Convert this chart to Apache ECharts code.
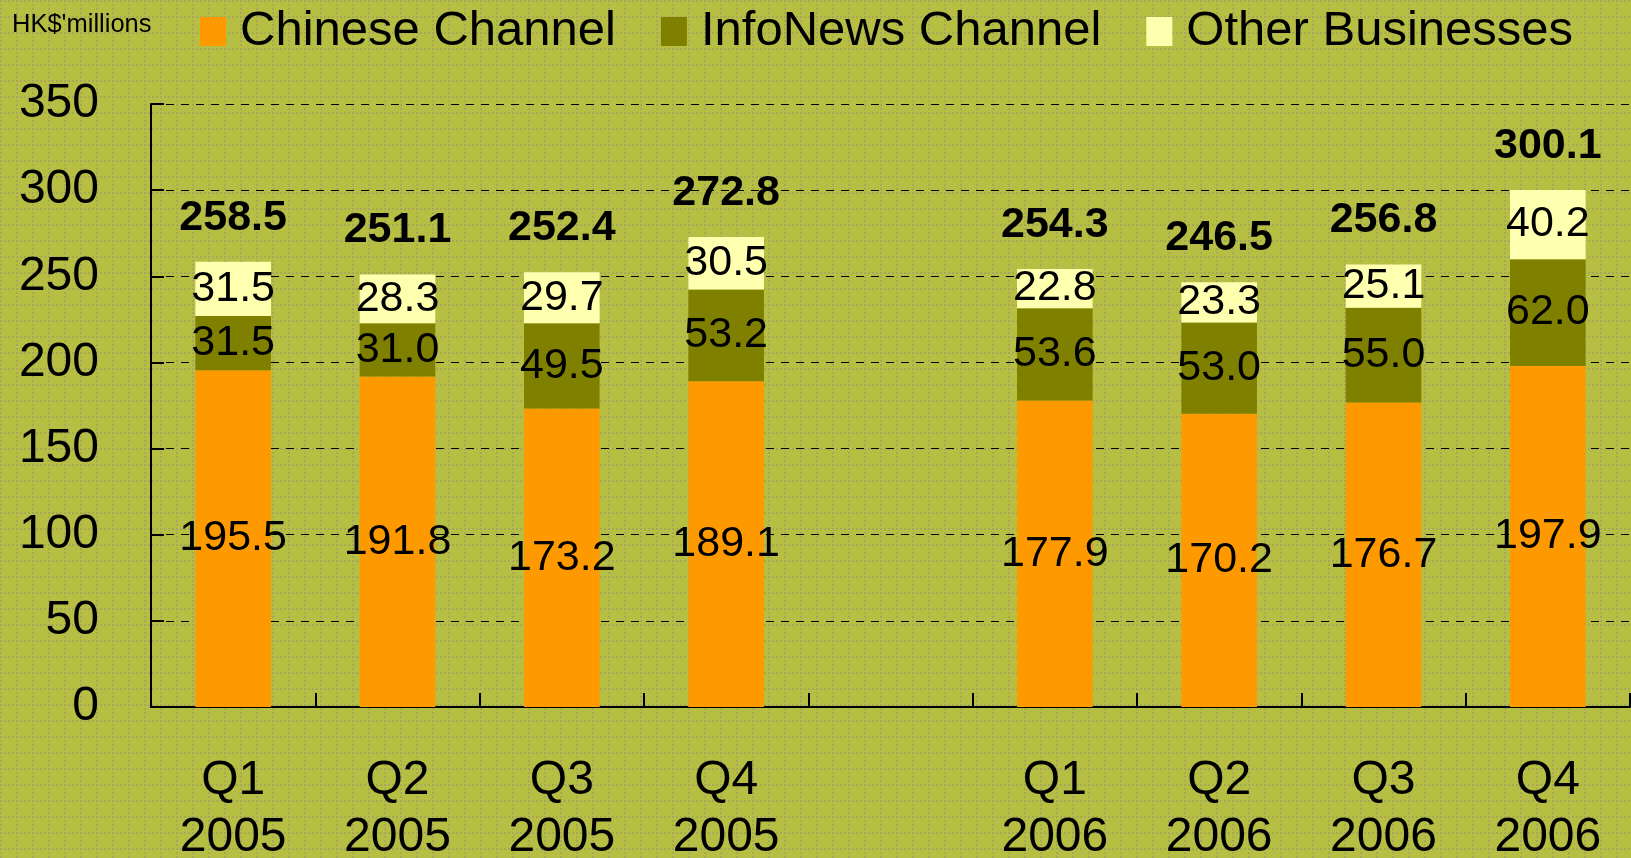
<!DOCTYPE html>
<html>
<head>
<meta charset="utf-8">
<style>
html,body{margin:0;padding:0;background:#b7be44;overflow:hidden;}
#c{width:1631px;height:858px;}
</style>
<script src="https://cdn.jsdelivr.net/npm/echarts@6/dist/echarts.min.js"></script>
</head>
<body>
<div id="c"></div>
<script>
const categories = ['Q1\n2005','Q2\n2005','Q3\n2005','Q4\n2005','','Q1\n2006','Q2\n2006','Q3\n2006','Q4\n2006'];
const chinese = [195.5,191.8,173.2,189.1,'-',177.9,170.2,176.7,197.9];
const infoNews = [31.5,31.0,49.5,53.2,'-',53.6,53.0,55.0,62.0];
const other = [31.5,28.3,29.7,30.5,'-',22.8,23.3,25.1,40.2];
const totals = [258.5,251.1,252.4,272.8,'-',254.3,246.5,256.8,300.1];
const yTicks = [0,50,100,150,200,250,300,350];

const BG = '#b7be44';
const tile = document.createElement('canvas');
tile.width = 16; tile.height = 16;
const tc = tile.getContext('2d');
tc.fillStyle = BG; tc.fillRect(0,0,16,16);
tc.fillStyle = '#a6a957';
for (let i = 0; i < 16; i += 4) {
  tc.fillRect(0, i, 2, 2);
  tc.fillRect(i, 0, 2, 2);
}

const chart = echarts.init(document.getElementById('c'));
const FONT = '"Liberation Sans", Arial, sans-serif';
const segLabel = {show:true, position:'inside', color:'#000', fontSize:43, fontFamily:FONT,
  textBorderWidth:0, formatter: p => Number(p.value).toFixed(1)};

const totalData = [];
totals.forEach((v, i) => { if (v !== '-') totalData.push([i, v]); });

chart.setOption({
  backgroundColor: {image: tile, repeat: 'repeat'},
  animation: false,
  textStyle: {fontFamily: FONT},
  graphic: [{type:'text', left:12, top:12, style:{text:"HK$'millions", fontSize:25.5, fontFamily:FONT, fill:'#000'}}],
  legend: {
    left: 200, top: 7, padding: 0,
    itemWidth: 26, itemHeight: 29, itemGap: 45,
    icon: 'rect',
    textStyle: {fontSize: 49, color:'#000', fontFamily: FONT, padding:[0,0,0,9]},
    data: ['Chinese Channel','InfoNews Channel','Other Businesses']
  },
  grid: {left:151, right:1, top:104, bottom:151, containLabel:false, outerBoundsMode:'none'},
  xAxis: {
    type:'category', data: categories,
    axisLine:{lineStyle:{color:'#000', width:2}},
    axisTick:{show:true, inside:true, length:14, lineStyle:{color:'#000', width:2}},
    axisLabel:{color:'#000', fontSize:48, margin:45, lineHeight:57, fontFamily:FONT, interval:0},
    splitLine:{show:false}
  },
  yAxis: {
    type:'value', min: yTicks[0], max: yTicks[yTicks.length-1], interval: 50,
    axisLine:{show:true, lineStyle:{color:'#000', width:2}},
    axisTick:{show:true, inside:true, length:13, lineStyle:{color:'#000', width:2}},
    axisLabel:{color:'#000', fontSize:48, margin:52, fontFamily:FONT},
    splitLine:{show:true, lineStyle:{color:'#000', width:1, type:[8,7]}}
  },
  series: [
    {name:'Chinese Channel', type:'bar', stack:'s', data: chinese, barWidth:'46%',
      itemStyle:{color:'#ff9900'}, label: segLabel},
    {name:'InfoNews Channel', type:'bar', stack:'s', data: infoNews,
      itemStyle:{color:'#808000'}, label: segLabel},
    {name:'Other Businesses', type:'bar', stack:'s', data: other,
      itemStyle:{color:'#ffffb0'}, label: segLabel},
    {name:'Total', type:'custom', data: totalData, z: 10, silent: true,
      renderItem: (params, api) => {
        const pt = api.coord([api.value(0), api.value(1)]);
        return {type:'text', x: pt[0], y: pt[1] - 44,
          style:{text: Number(api.value(1)).toFixed(1), fill:'#000',
            font:'bold 43px "Liberation Sans", Arial, sans-serif', align:'center', verticalAlign:'middle'}};
      }}
  ]
});
</script>
</body>
</html>
